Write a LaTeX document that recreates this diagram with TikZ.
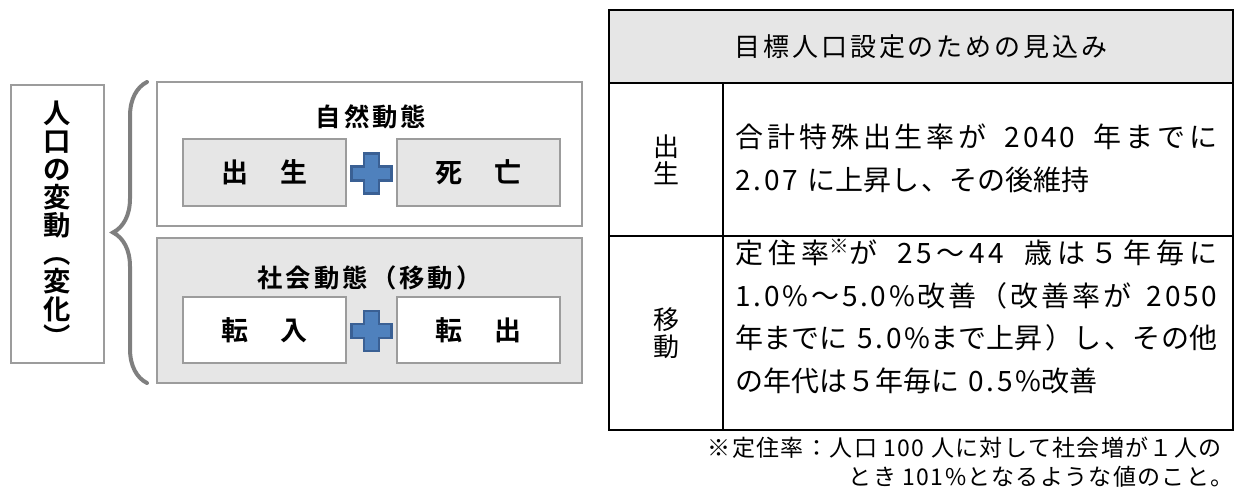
\documentclass[tikz,border=0pt]{standalone}
\usepackage{fontspec}
\setmainfont{Noto Sans CJK JP}[BoldFont={Noto Sans CJK JP Bold}]
\usetikzlibrary{decorations.pathreplacing}
\XeTeXlinebreaklocale "ja"
\XeTeXlinebreakskip=0pt plus 1.5pt minus 1pt
\tolerance=10000

\definecolor{boxgray}{HTML}{E6E6E6}
\definecolor{edgegray}{HTML}{9C9C9C}
\definecolor{bracegray}{HTML}{7F7F7F}
\definecolor{crossblue}{HTML}{4F81BD}
\definecolor{crossedge}{HTML}{3A6094}

\tikzset{
  greybox/.style={draw=edgegray, line width=1pt, inner sep=0pt, outer sep=0pt},
  cell/.style={draw=black, line width=1.6pt, inner sep=0pt, outer sep=0pt},
  titletext/.style={font=\fontsize{19pt}{19pt}\selectfont\bfseries\addfontfeature{LetterSpace=12}},
  itemtext/.style={font=\fontsize{20.25pt}{20.25pt}\selectfont\bfseries\addfontfeature{LetterSpace=8}},
  bodytext/.style={text width=361.5pt, align=justify, inner sep=0pt,
    font=\fontsize{21pt}{31.9pt}\selectfont\addfontfeature{LetterSpace=10}},
  plus/.style={fill=crossblue, draw=crossedge, line width=2pt},
}

\begin{document}
\begin{tikzpicture}[x=0.75pt, y=-0.75pt]
\useasboundingbox (0,0) rectangle (1239,493);

% left side
\node[greybox, minimum width=69.75pt, minimum height=208.5pt, align=center,
      font=\fontsize{20.5pt}{21pt}\selectfont\bfseries] (change) at (57.5,224)
      {人\\口\\の\\変\\動\\︵\\変\\化\\︶};

\node[greybox, fill=white, minimum width=318.75pt, minimum height=108pt] (natural) at (369.5,154) {};
\node[greybox, fill=boxgray, minimum width=318.75pt, minimum height=108.75pt] (social) at (369.5,310.5) {};
\node[titletext] (naturaltitle) at (371,117) {自然動態};
\node[titletext] (socialtitle) at (369.5,278) {社会動態（移動）};

\node[greybox, fill=boxgray, minimum width=122.25pt, minimum height=50.25pt, itemtext] (birth) at (264.5,172.5) {出　生};
\node[greybox, fill=boxgray, minimum width=122.25pt, minimum height=50.25pt, itemtext] (death) at (478.5,172.5) {死　亡};
\node[greybox, fill=white, minimum width=122.25pt, minimum height=49.5pt, itemtext] (movein) at (264.5,330) {転　入};
\node[greybox, fill=white, minimum width=122.25pt, minimum height=49.5pt, itemtext] (moveout) at (478.5,330) {転　出};

\coordinate (crossA) at (371.5,173.5);
\coordinate (crossB) at (371.5,331);
\foreach \c in {crossA,crossB}
  \draw[plus] (\c) ++(-7.5,-20) -- ++(15,0) -- ++(0,13) -- ++(12.5,0) -- ++(0,14) -- ++(-12.5,0)
     -- ++(0,13) -- ++(-15,0) -- ++(0,-13) -- ++(-12.5,0) -- ++(0,-14) -- ++(12.5,0) -- cycle;

\draw[bracegray, line width=3pt, line cap=round, decorate, decoration={brace, amplitude=25.5pt}]
  ([xshift=-7.5pt]social.south west) -- ([xshift=-7.5pt]natural.north west);

% table
\node[cell, fill=boxgray, minimum width=468pt, minimum height=54.75pt,
      font=\fontsize{19.5pt}{19.5pt}\selectfont\addfontfeature{LetterSpace=11}] (head) at (921,46.5) {目標人口設定のための見込み};
\node[cell, minimum width=85.5pt, minimum height=114.75pt, align=center,
      font=\fontsize{19.5pt}{20.25pt}\selectfont] (birthkey) at (666,159.5) {出\\生};
\node[cell, minimum width=382.5pt, minimum height=114.75pt] (birthcell) at (978,159.5) {};
\node[cell, minimum width=85.5pt, minimum height=145.5pt, align=center,
      font=\fontsize{19.5pt}{20.25pt}\selectfont] (movekey) at (666,333) {移\\動};
\node[cell, minimum width=382.5pt, minimum height=145.5pt] (movecell) at (978,333) {};

\node[bodytext, anchor=west] (birthtext) at (735,158.5)
  {\noindent 合計特殊出生率が 2040 年までに\linebreak 2.07 に上昇し、その後維持};
\node[bodytext, anchor=west] (movetext) at (735,316.5)
  {\noindent 定住率\textsuperscript{※}が 25～44 歳は５年毎に\linebreak 1.0\%～5.0\%改善（改善率が 2050\linebreak 年までに 5.0\%まで上昇）し、その他\linebreak の年代は５年毎に 0.5\%改善};

\node[inner sep=0pt, anchor=east,
      font=\fontsize{17.25pt}{17.25pt}\selectfont\addfontfeature{LetterSpace=6}] (noteA) at (1222,448)
  {※定住率：人口 100 人に対して社会増が１人の};
\node[inner sep=0pt, anchor=east,
      font=\fontsize{17.25pt}{17.25pt}\selectfont\addfontfeature{LetterSpace=6}] (noteB) at (1234,477)
  {とき 101\%となるような値のこと。};
\end{tikzpicture}
\end{document}
